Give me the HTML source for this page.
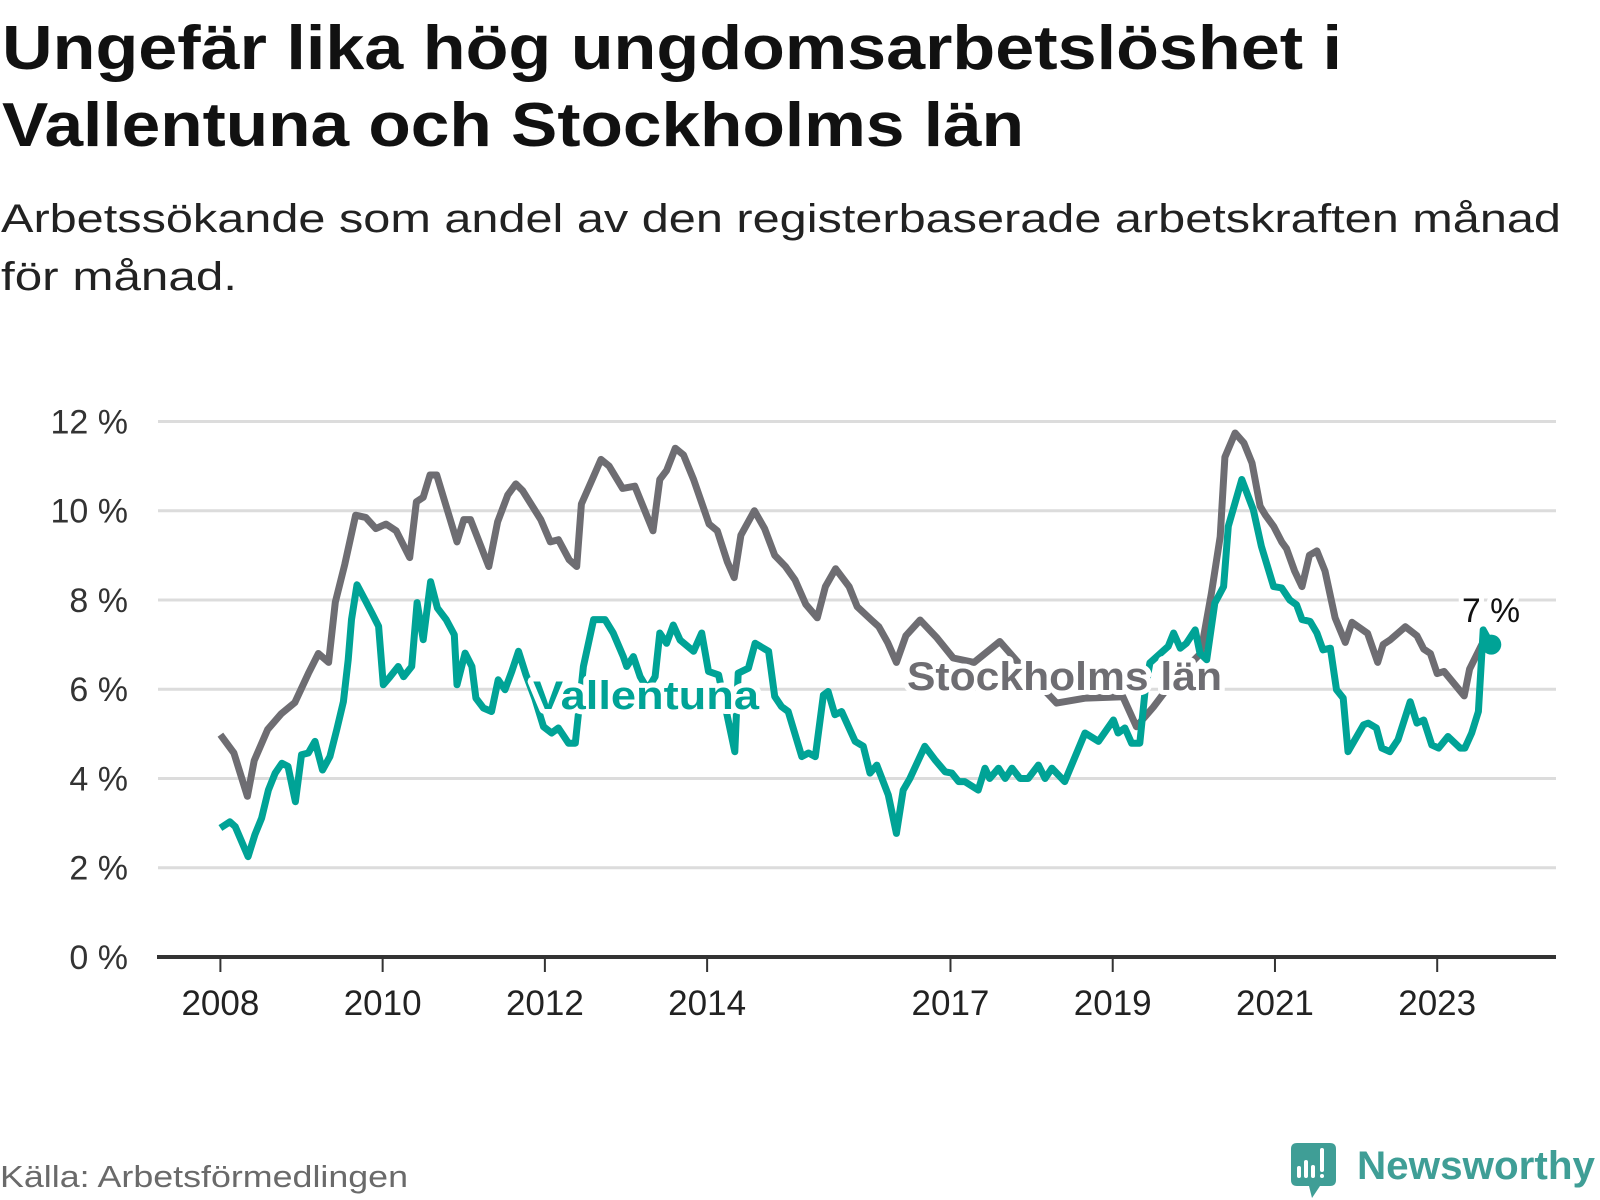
<!DOCTYPE html>
<html><head><meta charset="utf-8">
<style>
html,body{margin:0;padding:0;background:#fff;}
body{width:1600px;height:1200px;overflow:hidden;font-family:"Liberation Sans",sans-serif;}
svg{display:block}
</style></head>
<body>
<svg id="chart" width="1600" height="1200" xmlns="http://www.w3.org/2000/svg">
  <g font-family="Liberation Sans, sans-serif" font-weight="bold" fill="#111" font-size="62">
    <text x="2" y="69" textLength="1340" lengthAdjust="spacingAndGlyphs">Ungefär lika hög ungdomsarbetslöshet i</text>
    <text x="2" y="146" textLength="1022" lengthAdjust="spacingAndGlyphs">Vallentuna och Stockholms län</text>
  </g>
  <g font-family="Liberation Sans, sans-serif" fill="#222" font-size="40">
    <text x="1" y="232" textLength="1560" lengthAdjust="spacingAndGlyphs">Arbetssökande som andel av den registerbaserade arbetskraften månad</text>
    <text x="1" y="290" textLength="236" lengthAdjust="spacingAndGlyphs">för månad.</text>
  </g>
  <g id="grid"></g>
  <g id="yticks"></g>
  <g id="xaxis"></g>
  <g id="series"></g>
  <g id="labels"></g>
  <text x="0" y="1187" font-size="31" fill="#6a6a6a" textLength="408" lengthAdjust="spacingAndGlyphs">Källa: Arbetsförmedlingen</text>
  <g>
    <path d="M1297 1143 H1330 Q1336 1143 1336 1149 V1180 Q1336 1186 1330 1186 H1320 L1312 1198 L1309 1186 H1297 Q1291 1186 1291 1180 V1149 Q1291 1143 1297 1143 Z" fill="#3f9e96"/>
    <rect x="1297" y="1166" width="4" height="12" rx="2" fill="#fff"/>
    <rect x="1304" y="1160" width="4" height="18" rx="2" fill="#fff"/>
    <rect x="1311" y="1165" width="4" height="13" rx="2" fill="#fff"/>
    <rect x="1320" y="1148" width="4" height="24" rx="2" fill="#fff"/>
    <rect x="1320" y="1174" width="4" height="4" rx="2" fill="#fff"/>
    <text x="1357" y="1179" font-size="40" font-weight="bold" fill="#3f9e96" textLength="238" lengthAdjust="spacingAndGlyphs">Newsworthy</text>
  </g>
</svg>
<script>
// ---- data (month index from Jan 2008, value in %) ----
const yTicks = [0, 2, 4, 6, 8, 10, 12];
const xTickYears = [2008, 2010, 2012, 2014, 2017, 2019, 2021, 2023];
const stockholmMonths = [0,2,4,5,7,9,11,13,14.5,16,17,18.4,20,21.5,23,24.5,26,28,29,30,31,32,35,36,37,39.7,41,42.5,43.7,44.7,47.4,48.8,50,51.6,52.7,53.4,55,56.3,57.5,59.5,61.3,64,65,66,67.3,68.5,70,72.3,73.5,75,76,77,79,80.5,82,83.6,85,86.6,88.3,89.5,91,93,94.2,96.3,97.4,98.7,100,101.4,103.5,106,108.4,111.5,115.3,118,123.7,128,133.5,135.5,138,141,145,146.6,147.9,148.6,150.1,151.4,152.6,153.8,154.6,155.8,157,157.7,158.9,160,161.1,162.2,163.4,164.9,166.4,167.4,169.7,171.2,172,173,175.3,177,178,179,180,181,184,184.8,186.6,188];
const stockholmValues = [4.98,4.57,3.6,4.4,5.1,5.45,5.7,6.35,6.8,6.6,7.95,8.8,9.9,9.85,9.6,9.7,9.55,8.95,10.2,10.3,10.8,10.8,9.3,9.8,9.8,8.75,9.75,10.35,10.6,10.45,9.8,9.3,9.35,8.9,8.75,10.15,10.7,11.15,11.0,10.5,10.55,9.55,10.7,10.9,11.4,11.25,10.7,9.7,9.55,8.85,8.5,9.45,10.0,9.6,9.0,8.75,8.45,7.9,7.6,8.3,8.7,8.3,7.85,7.55,7.4,7.05,6.6,7.2,7.55,7.15,6.7,6.6,7.07,6.6,5.69,5.8,5.83,5.16,5.6,6.2,6.8,8.15,9.42,11.2,11.74,11.52,11.07,10.1,9.9,9.65,9.3,9.15,8.65,8.3,9.0,9.1,8.65,7.6,7.05,7.5,7.25,6.6,7.0,7.1,7.4,7.2,6.9,6.8,6.35,6.4,5.85,6.45,7.0,7.0];
const vallentunaMonths = [0,1.4,2.2,4.1,5.1,6.1,7.1,8.1,9.1,10,11.1,12,13,14,15.1,16.2,17.2,18.2,18.9,19.4,20.2,21.4,22.4,23.4,24.1,25.1,26.3,27.1,28.3,29.1,30,31.1,32.1,33.4,34.6,35,36.2,37.2,37.8,38.9,40.1,41.1,42.1,43.1,44.1,45.2,46.5,47.8,49,50,51.5,52.5,53.7,55.2,56.9,58.1,59.6,60.1,61.1,62.1,63.2,64.3,65,66,67,68,70,71.2,72.2,73.7,76.1,76.6,78.1,79.1,81.1,82,83,84,86,87,88,89.2,89.9,90.9,91.9,93.9,95.1,96.1,97.1,98.8,100,101,102,104.2,105.7,107.2,108.2,109.2,110.1,112.1,113.1,113.8,115.1,116.1,117.1,118.3,119.5,121,122,123,124.9,127.9,129.9,132.1,132.8,133.8,134.8,136,136.8,137.5,140.2,141,142,142.9,144.2,144.9,145.9,147.1,148.4,149.1,151.1,152.8,154,155.8,157,158.2,159.2,160,161.2,162.2,163.1,164.2,165.1,166.1,166.8,169.1,169.8,171,171.8,173,174.2,176,177,178,179.2,180.2,181.6,183.4,184.1,185.1,186.1,186.8,188];
const vallentunaValues = [2.89,3.03,2.92,2.25,2.74,3.11,3.74,4.12,4.34,4.27,3.48,4.53,4.57,4.83,4.19,4.49,5.09,5.72,6.66,7.56,8.34,8.0,7.71,7.41,6.1,6.28,6.51,6.28,6.51,7.94,7.11,8.41,7.82,7.56,7.22,6.1,6.81,6.51,5.8,5.58,5.5,6.21,5.99,6.4,6.85,6.32,5.8,5.16,5.02,5.13,4.79,4.79,6.51,7.56,7.56,7.26,6.73,6.51,6.73,6.28,6.0,6.28,7.26,7.03,7.44,7.1,6.85,7.26,6.4,6.32,4.6,6.36,6.47,7.03,6.85,5.84,5.61,5.5,4.49,4.57,4.49,5.87,5.95,5.43,5.5,4.83,4.72,4.12,4.3,3.63,2.77,3.74,4.0,4.72,4.42,4.15,4.12,3.93,3.93,3.74,4.23,4.0,4.23,4.0,4.23,4.0,4.0,4.3,4.0,4.23,3.93,5.02,4.83,5.31,5.02,5.13,4.79,4.79,5.99,6.59,6.96,7.26,6.92,7.03,7.33,6.81,6.66,7.93,8.3,9.65,10.7,10.02,9.2,8.3,8.27,8.0,7.89,7.56,7.52,7.26,6.88,6.92,5.99,5.8,4.6,5.2,5.24,5.13,4.68,4.6,4.87,5.72,5.24,5.31,4.75,4.68,4.94,4.68,4.68,5.02,5.5,7.33,7.0];
const lastValueLabel = "7 %";

// ---- scales ----
const X0 = 220.4, PX_PER_MONTH = 6.76;
const Y0 = 957, PX_PER_PCT = 44.63;
function xScale(m){ return X0 + m * PX_PER_MONTH; }
function xYear(y){ return xScale((y - 2008) * 12); }
function yScale(v){ return Y0 - v * PX_PER_PCT; }

const NS = "http://www.w3.org/2000/svg";
function mk(tag, attrs, parent){
  const e = document.createElementNS(NS, tag);
  for (const k in attrs) e.setAttribute(k, attrs[k]);
  parent.appendChild(e); return e;
}
const grid = document.getElementById('grid');
const yt = document.getElementById('yticks');
const xa = document.getElementById('xaxis');
const ser = document.getElementById('series');
const lab = document.getElementById('labels');

yTicks.forEach(v => {
  if (v > 0) {
    const l = mk('line', {x1:158, x2:1556, y1:yScale(v), y2:yScale(v), stroke:'#dcdcdc', 'stroke-width':3}, grid);
    
    
  }
  const t = mk('text', {x:128, y:yScale(v)+12, 'text-anchor':'end', 'font-size':34, fill:'#333'}, yt);
  t.textContent = v + ' %';
  
  
});

const axisLine = mk('line', {x1:157, x2:1556, y1:Y0, y2:Y0, stroke:'#333', 'stroke-width':4}, xa);


xTickYears.forEach(y => {
  const x = xYear(y);
  const tk = mk('line', {x1:x, x2:x, y1:Y0, y2:Y0+15, stroke:'#333', 'stroke-width':2}, xa);
  
  
  const t = mk('text', {x:x, y:1015, 'text-anchor':'middle', 'font-size':35, fill:'#222'}, xa);
  t.textContent = y;
  
  
});

function pathFor(ms, vs){
  return ms.map((m,i) => (i ? 'L' : 'M') + xScale(m).toFixed(1) + ' ' + yScale(vs[i]).toFixed(1)).join(' ');
}
const pS = mk('path', {d:pathFor(stockholmMonths, stockholmValues), fill:'none', stroke:'#6e6d72', 'stroke-width':7, 'stroke-linejoin':'round'}, ser);


const pV = mk('path', {d:pathFor(vallentunaMonths, vallentunaValues), fill:'none', stroke:'#00a396', 'stroke-width':7, 'stroke-linejoin':'round'}, ser);



const lm = vallentunaMonths[vallentunaMonths.length-1], lv = vallentunaValues[vallentunaValues.length-1];
const dot = mk('circle', {cx:xScale(lm), cy:yScale(lv), r:10, fill:'#00a396'}, ser);



function haloText(txt, x, y, size, color, weight, name, len){
  const g = mk('g', {}, lab);
  
  
  const a = {x:x, y:y, 'font-size':size, 'font-weight':weight, textLength:len, lengthAdjust:'spacingAndGlyphs'};
  const h = mk('text', Object.assign({}, a, {fill:'#fff', stroke:'#fff', 'stroke-width':10, 'stroke-linejoin':'round'}), g);
  h.textContent = txt;
  const t = mk('text', Object.assign({}, a, {fill:color}), g);
  t.textContent = txt;
}
haloText('Vallentuna', 533, 709, 40, '#00a396', 'bold', 'label-vallentuna', 226);
haloText('Stockholms län', 907, 690, 40, '#6e6d72', 'bold', 'label-stockholms-lan', 315);
haloText(lastValueLabel, 1462, 622, 34, '#111', 'normal', 'last-value-label', 58);
</script>
</body></html>
